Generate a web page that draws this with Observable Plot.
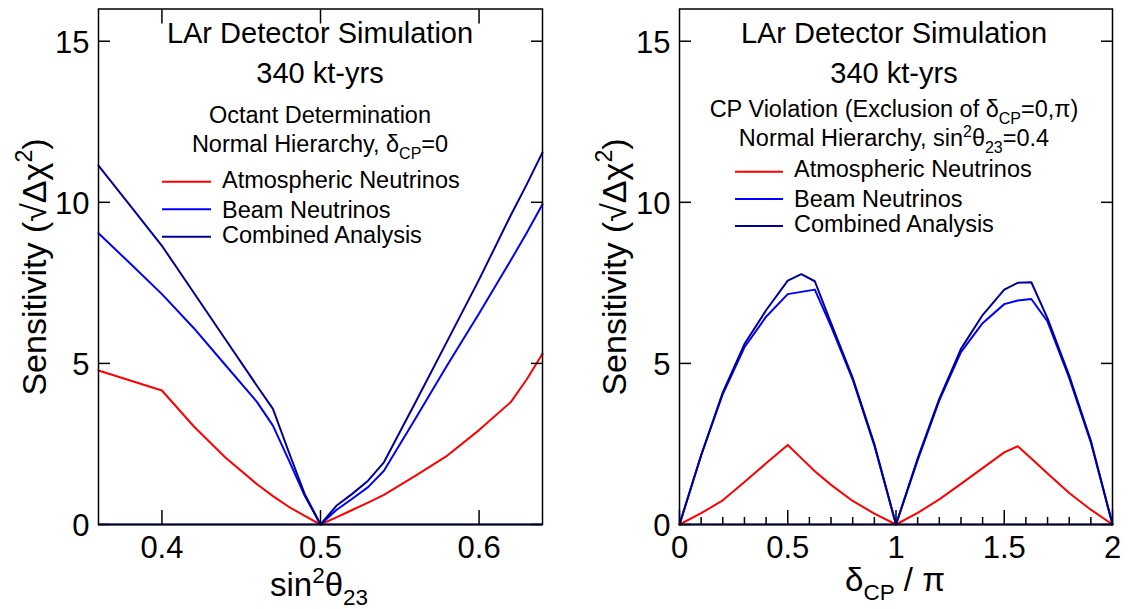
<!DOCTYPE html>
<html><head><meta charset="utf-8">
<script src="https://cdn.jsdelivr.net/npm/d3@7"></script>
<script src="https://cdn.jsdelivr.net/npm/@observablehq/plot@0.6"></script>
<style>
body{margin:0;background:#fff;}
#wrap{position:relative;width:1128px;height:609px;overflow:hidden;font-family:"Liberation Sans",Arial,sans-serif;}
#wrap > svg{position:absolute;top:0;}
</style></head><body><div id="wrap"></div>
<script>
// ---------- data ----------
const seriesNames = ["Atmospheric Neutrinos", "Beam Neutrinos", "Combined Analysis"];
const seriesColors = ["#ff0000", "#0000ff", "#000099"];
const yTicks = [0, 5, 10, 15];

// Left panel: octant determination vs sin^2(theta23)
const octantX    = [0.36,0.38,0.40,0.42,0.44,0.46,0.47,0.48,0.49,0.50,0.51,0.52,0.53,0.54,0.56,0.58,0.60,0.62,0.63,0.64];
const octantAtm  = [4.78,4.47,4.16,3.05,2.08,1.25,0.88,0.55,0.27,0,0.22,0.45,0.68,0.92,1.52,2.14,2.93,3.8,4.5,5.3];
const octantBeam = [9.04,8.1,7.15,6.1,4.95,3.8,3.07,2.0,0.9,0,0.45,0.8,1.16,1.67,3.3,4.95,6.55,8.2,9.05,9.94];
const octantComb = [11.14,9.9,8.65,7.2,5.75,4.3,3.59,2.25,0.95,0,0.58,0.95,1.36,1.93,3.8,5.7,7.6,9.6,10.55,11.55];
const octantXTicks = [0.4, 0.5, 0.6];

// Right panel: CP violation vs deltaCP/pi
const cpX    = [0,0.1,0.2,0.3,0.4,0.5,0.5625,0.625,0.7,0.8,0.9,1.0,1.1,1.2,1.3,1.4,1.5,1.5625,1.625,1.7,1.8,1.9,2.0];
const cpAtm  = [0,0.35,0.75,1.32,1.9,2.47,2.06,1.65,1.23,0.73,0.34,0,0.36,0.78,1.26,1.75,2.24,2.43,2.05,1.58,0.98,0.46,0];
const cpBeam = [0,2.15,4.05,5.5,6.45,7.15,7.22,7.29,6.15,4.5,2.45,0,2.0,3.85,5.35,6.25,6.84,6.95,7.0,6.3,4.55,2.55,0];
const cpComb = [0,2.15,4.1,5.6,6.65,7.57,7.77,7.55,6.25,4.55,2.5,0,2.05,3.9,5.45,6.5,7.29,7.5,7.52,6.4,4.62,2.6,0];
const cpXTicks = [0, 0.5, 1, 1.5, 2];
const cpXMinor = [0.1,0.2,0.3,0.4,0.6,0.7,0.8,0.9,1.1,1.2,1.3,1.4,1.6,1.7,1.8,1.9];

// ---------- drawing ----------
const FONT = '"Liberation Sans", Arial, sans-serif';
const wrap = document.getElementById("wrap");

function panel({x, series, xDomain, xTicks, xMinor, topTicks, left, width, ml, mr}) {
  const rows = [];
  series.forEach((vals, i) => vals.forEach((v, j) => rows.push({x: x[j], y: v, s: seriesNames[i]})));
  const marks = [
    Plot.line(rows, {x: "x", y: "y", z: "s", stroke: "s", strokeWidth: 2}),
    Plot.ruleY([0], {stroke: "#000099", strokeWidth: 2}),
    Plot.frame({stroke: "#000", strokeWidth: 1.5}),
    Plot.axisY({ticks: yTicks, anchor: "left", tickSize: -12, text: null, label: null, strokeWidth: 1.5}),
    Plot.axisY({ticks: yTicks, anchor: "right", tickSize: -12, text: null, label: null, strokeWidth: 1.5}),
    Plot.axisY({ticks: yTicks, anchor: "left", tickSize: 0, tickPadding: 9, dy: 2, label: null, fontSize: 31}),
    Plot.axisX({ticks: xTicks, anchor: "bottom", tickSize: -14, text: null, label: null, strokeWidth: 1.5}),
    Plot.axisX({ticks: xTicks, anchor: "bottom", tickSize: 0, tickPadding: 11, label: null, fontSize: 31, tickFormat: d => String(d)})
  ];
  if (xMinor) marks.push(Plot.axisX({ticks: xMinor, anchor: "bottom", tickSize: -7, text: null, label: null, strokeWidth: 1.5}));
  if (topTicks) marks.push(Plot.axisX({ticks: xTicks, anchor: "top", tickSize: -14, text: null, label: null, strokeWidth: 1.5}));
  const svg = Plot.plot({
    width, height: 609,
    marginLeft: ml, marginRight: mr, marginTop: 8.5, marginBottom: 85,
    style: {fontFamily: FONT, background: "transparent", color: "#000", overflow: "visible"},
    x: {domain: xDomain},
    y: {domain: [0, 16]},
    color: {domain: seriesNames, range: seriesColors},
    marks
  });
  svg.style.left = left + "px";
  wrap.appendChild(svg);
}

panel({x: octantX, series: [octantAtm, octantBeam, octantComb], xDomain: [0.36, 0.64],
       xTicks: octantXTicks, xMinor: null, topTicks: true, left: 0, width: 564, ml: 98, mr: 22});
panel({x: cpX, series: [cpAtm, cpBeam, cpComb], xDomain: [0, 2],
       xTicks: cpXTicks, xMinor: cpXMinor, topTicks: false, left: 564, width: 564, ml: 115, mr: 16});

// ---------- annotations ----------
const ov = d3.select(wrap).append("svg")
  .attr("width", 1128).attr("height", 609)
  .style("position", "absolute").style("left", "0px").style("top", "0px")
  .attr("font-family", FONT);

function rich(g, x, y, parts, size, anchor = "middle") {
  const t = g.append("text").attr("x", x).attr("y", y).attr("font-size", size)
    .attr("text-anchor", anchor).attr("fill", "#000");
  let shift = 0;
  for (const [str, kind] of parts) {
    const target = kind === "sub" ? size * 0.28 : kind === "sup" ? -size * 0.4 : 0;
    t.append("tspan").text(str).attr("dy", target - shift)
      .attr("font-size", kind ? size * 0.68 : size);
    shift = target;
  }
  return t;
}

function block(cx, lines, legend) {
  for (const l of lines) rich(ov, cx, l.y, l.parts, l.size);
  legend.rows.forEach((r, i) => {
    ov.append("line").attr("x1", legend.x1).attr("x2", legend.x2)
      .attr("y1", r.ly).attr("y2", r.ly)
      .attr("stroke", seriesColors[i]).attr("stroke-width", 2);
    rich(ov, legend.tx, r.ty, [[seriesNames[i]]], 23.5, "start");
  });
}

block(320, [
  {y: 43.3, size: 29, parts: [["LAr Detector Simulation"]]},
  {y: 83.3, size: 29, parts: [["340 kt-yrs"]]},
  {y: 123.3, size: 23.5, parts: [["Octant Determination"]]},
  {y: 152.3, size: 23.5, parts: [["Normal Hierarchy, δ"], ["CP", "sub"], ["=0"]]}
], {x1: 162, x2: 211, tx: 222, rows: [
  {ly: 181.7, ty: 187.7}, {ly: 209.3, ty: 217.7}, {ly: 236.7, ty: 243.3}]});

block(894, [
  {y: 43.3, size: 29, parts: [["LAr Detector Simulation"]]},
  {y: 83.3, size: 29, parts: [["340 kt-yrs"]]},
  {y: 117.3, size: 23.5, parts: [["CP Violation (Exclusion of δ"], ["CP", "sub"], ["=0,π)"]]},
  {y: 146, size: 23.5, parts: [["Normal Hierarchy, sin"], ["2", "sup"], ["θ"], ["23", "sub"], ["=0.4"]]}
], {x1: 735, x2: 783, tx: 794, rows: [
  {ly: 171.7, ty: 177.3}, {ly: 199, ty: 206.7}, {ly: 226, ty: 232.3}]});

// axis titles
rich(ov, 319, 596, [["sin"], ["2", "sup"], ["θ"], ["23", "sub"]], 33);
rich(ov, 895, 591, [["δ"], ["CP", "sub"], [" / π"]], 33);
for (const bx of [46, 626]) {
  const g = ov.append("g").attr("transform", `translate(${bx},267) rotate(-90)`);
  rich(g, 0, 0, [["Sensitivity (√Δχ"], ["2", "sup"], [")"]], 34);
}
</script></body></html>
